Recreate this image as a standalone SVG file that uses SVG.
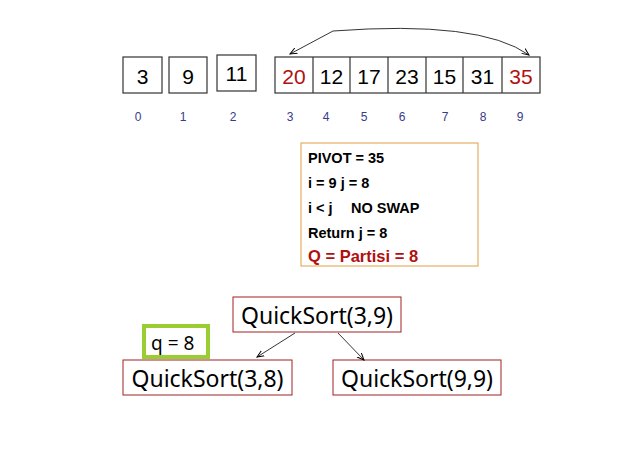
<svg xmlns="http://www.w3.org/2000/svg" width="638" height="451" viewBox="0 0 638 451">
<defs>
<marker id="ah" markerWidth="8" markerHeight="8" refX="7" refY="4" orient="auto" markerUnits="userSpaceOnUse"><path d="M0,1 L7,4 L0,7" fill="none" stroke="#000" stroke-width="1"/></marker>
</defs>
<style>
.cell{fill:#fff;stroke:#333;stroke-width:1.2}
.num{font-family:"Liberation Sans",Arial,sans-serif;font-size:21px;text-anchor:middle;fill:#000}
.red{fill:#b01010}
.idx{font-family:"Liberation Sans",Arial,sans-serif;font-size:12px;text-anchor:middle;fill:#3a3a8a}
.info{font-family:"Liberation Sans",Arial,sans-serif;font-size:14.5px;font-weight:bold;fill:#000}
.qs{fill:#fff;stroke:#a02020;stroke-width:1}
.qt{font-family:"Noto Sans","DejaVu Sans",sans-serif;font-size:23px;text-anchor:middle;fill:#000}
.con{fill:none;stroke:#000;stroke-width:0.8}
</style>
<rect width="638" height="451" fill="#fff"/>
<g id="cells">
<rect class="cell" x="123" y="57" width="39" height="36"/><text class="num" x="142.5" y="84">3</text>
<rect class="cell" x="169" y="57" width="38" height="36"/><text class="num" x="188" y="84">9</text>
<rect class="cell" x="217" y="55" width="39" height="36"/><text class="num" x="236.5" y="81">11</text>
<rect class="cell" x="275" y="57" width="265" height="36"/>
<path d="M313,57V93M350,57V93M388,57V93M426,57V93M463,57V93M502,57V93" stroke="#333" stroke-width="1.2"/>
<text class="num red" x="294" y="84">20</text>
<text class="num" x="331.5" y="84">12</text>
<text class="num" x="369" y="84">17</text>
<text class="num" x="407" y="84">23</text>
<text class="num" x="444.5" y="84">15</text>
<text class="num" x="482.5" y="84">31</text>
<text class="num red" x="521" y="84">35</text>
</g>
<g id="indices">
<text class="idx" x="138" y="121">0</text><text class="idx" x="183" y="121">1</text><text class="idx" x="233" y="121">2</text>
<text class="idx" x="290" y="121">3</text><text class="idx" x="326" y="121">4</text><text class="idx" x="364" y="121">5</text>
<text class="idx" x="402" y="121">6</text><text class="idx" x="445" y="121">7</text><text class="idx" x="483" y="121">8</text>
<text class="idx" x="520" y="121">9</text>
</g>
<g id="info">
<rect x="301" y="143" width="177" height="123" fill="#fff" stroke="#e0a040" stroke-width="1"/>
<text class="info" x="308" y="163">PIVOT = 35</text>
<text class="info" x="308" y="188">i = 9 j = 8</text>
<text class="info" x="308" y="213">i &lt; j</text><text class="info" x="351" y="213">NO SWAP</text>
<text class="info" x="308" y="238">Return j = 8</text>
<text class="info" x="308" y="262" style="font-size:16.5px;fill:#b01010">Q = Partisi = 8</text>
</g>
<g id="qs39"><rect class="qs" x="233" y="297" width="168" height="35"/><text class="qt" x="317" y="324">QuickSort(3,9)</text></g>
<g id="q8"><rect x="144" y="326" width="64" height="31" fill="#fff" stroke="#9acd32" stroke-width="4"/><text class="qt" x="151" y="350" style="font-size:19px;text-anchor:start">q = 8</text></g>
<g id="qs38"><rect class="qs" x="123" y="360" width="169" height="35"/><text class="qt" x="207.5" y="387">QuickSort(3,8)</text></g>
<g id="qs99"><rect class="qs" x="333" y="360" width="168" height="35"/><text class="qt" x="417" y="387">QuickSort(9,9)</text></g>
<g id="connectors">
<path class="con" d="M333,31 Q480,20 529,55" marker-end="url(#ah)"/>
<path class="con" d="M333,31 L290,54" marker-end="url(#ah)"/>
<path class="con" d="M295,333 L257,357" marker-end="url(#ah)"/>
<path class="con" d="M338,333 L364,360" marker-end="url(#ah)"/>
</g>
</svg>
